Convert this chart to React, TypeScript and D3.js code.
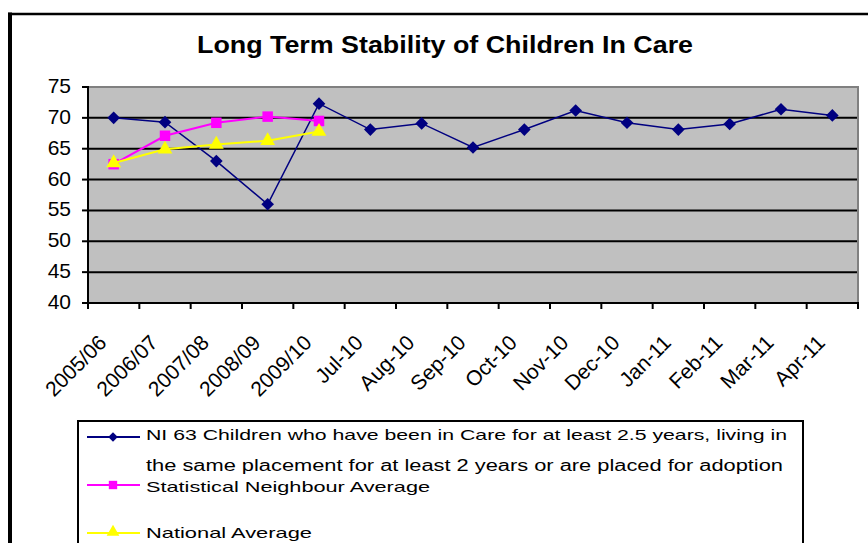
import * as d3 from "d3";

// categories along the x axis
const categories = [
  "2005/06", "2006/07", "2007/08", "2008/09", "2009/10",
  "Jul-10", "Aug-10", "Sep-10", "Oct-10", "Nov-10",
  "Dec-10", "Jan-11", "Feb-11", "Mar-11", "Apr-11"
];

// NI 63 - the local authority series
const ni63 = [70.0, 69.3, 63.0, 56.0, 72.3, 68.1, 69.1, 65.2, 68.1, 71.2, 69.2, 68.1, 69.0, 71.4, 70.4];
// only the yearly points have comparators
const statNeighbour = [62.5, 67.1, 69.2, 70.2, 69.5];
const nationalAvg = [62.7, 64.9, 65.7, 66.3, 67.8];

const yTicks = [40, 45, 50, 55, 60, 65, 70, 75];

const seriesNames = [
  "NI 63 Children who have been in Care for at least 2.5 years, living in",
  "the same placement for at least 2 years or are placed for adoption",
  "Statistical Neighbour Average",
  "National Average"
];

const width = 868;
const height = 543;
const marginLeft = 88;
const marginRight = 10;
const marginTop = 87;
const plotBottom = 303;
const font = "'Liberation Sans', Arial, sans-serif";

export default function App() {
  const x = d3.scaleBand(categories, [marginLeft, width - marginRight]);
  const y = d3.scaleLinear([40, 75], [plotBottom, marginTop]);
  const cx = (i: number) => x(categories[i])! + x.bandwidth() / 2;

  const line = d3.line<number>((d, i) => cx(i), (d) => y(d));

  const diamond = d3.symbol(d3.symbolSquare, 80)()!;
  const square = d3.symbol(d3.symbolSquare, 110)()!;
  const triangle = d3.symbol(d3.symbolTriangle, 95)()!;
  const smallSquare = d3.symbol(d3.symbolSquare, 70)()!;
  const smallDiamond = d3.symbol(d3.symbolSquare, 45)()!;
  const smallTriangle = d3.symbol(d3.symbolTriangle, 70)()!;

  const ticksX = [...categories.map((c) => x(c)!), width - marginRight];

  return (
    <svg width={width} height={height} style={{position: "absolute", left: 0, top: 0, background: "#fff"}}>
      {/* outer chart frame, cut off at right and bottom */}
      <line x1={10} x2={10} y1={12.5} y2={height} stroke="#000" strokeWidth={4} />
      <line x1={8} x2={width} y1={14} y2={14} stroke="#000" strokeWidth={2.5} />

      <text x={445} y={53} textAnchor="middle" fontFamily={font} fontWeight="bold" fontSize={23}
        textLength={496} lengthAdjust="spacingAndGlyphs">Long Term Stability of Children In Care</text>

      {/* plot area */}
      <rect x={marginLeft} y={marginTop} width={width - marginRight - marginLeft} height={plotBottom - marginTop} fill="#c0c0c0" />
      <g stroke="#000" strokeWidth={2}>
        {yTicks.slice(1, -1).map((t) => (
          <line key={t} x1={marginLeft} x2={width - marginRight} y1={y(t)} y2={y(t)} />
        ))}
      </g>
      <path d={`M${marginLeft},${marginTop}H${width - marginRight}V${plotBottom}`} fill="none" stroke="#808080" strokeWidth={2} />

      {/* y axis */}
      <g stroke="#000" strokeWidth={2}>
        <line x1={marginLeft} x2={marginLeft} y1={marginTop - 1} y2={plotBottom + 1} />
        {yTicks.map((t) => (
          <line key={t} x1={marginLeft - 6} x2={marginLeft} y1={y(t)} y2={y(t)} />
        ))}
      </g>
      <g fontFamily={font} fontSize={21} textAnchor="end">
        {yTicks.map((t) => (
          <text key={t} x={71} y={y(t) + 6}>{t}</text>
        ))}
      </g>

      {/* x axis */}
      <g stroke="#000" strokeWidth={2}>
        <line x1={marginLeft - 1} x2={width - marginRight + 1} y1={plotBottom} y2={plotBottom} />
        {ticksX.map((t, i) => (
          <line key={i} x1={t} x2={t} y1={plotBottom} y2={plotBottom + 6} />
        ))}
      </g>
      <g fontFamily={font} fontSize={21} textAnchor="end">
        {categories.map((c, i) => (
          <text key={c} transform={`translate(${cx(i) - 6},${344}) rotate(-45)`}>{c}</text>
        ))}
      </g>

      {/* series */}
      <path d={line(ni63)!} fill="none" stroke="#000080" strokeWidth={1.5} />
      {ni63.map((d, i) => (
        <path key={i} d={diamond} transform={`translate(${cx(i)},${y(d)}) rotate(45)`} fill="#000080" />
      ))}
      <path d={line(statNeighbour)!} fill="none" stroke="#ff00ff" strokeWidth={2} />
      {statNeighbour.map((d, i) => (
        <path key={i} d={square} transform={`translate(${cx(i)},${y(d)})`} fill="#ff00ff" />
      ))}
      <path d={line(nationalAvg)!} fill="none" stroke="#ffff00" strokeWidth={2} />
      {nationalAvg.map((d, i) => (
        <path key={i} d={triangle} transform={`translate(${cx(i)},${y(d)})`} fill="#ffff00" />
      ))}

      {/* legend */}
      <path d={`M78,${height}V421H803V${height}`} fill="none" stroke="#000" strokeWidth={2} />
      <g fontFamily={font}>
        <line x1={87} x2={140} y1={437} y2={437} stroke="#000080" strokeWidth={2} />
        <path d={smallDiamond} transform="translate(113,437) rotate(45)" fill="#000080" />
        <text x={146} y={440} fontSize={14.5} textLength={641} lengthAdjust="spacingAndGlyphs">{seriesNames[0]}</text>
        <text x={146} y={471} fontSize={16} textLength={637} lengthAdjust="spacingAndGlyphs">{seriesNames[1]}</text>

        <line x1={87} x2={140} y1={485} y2={485} stroke="#ff00ff" strokeWidth={2} />
        <path d={smallSquare} transform="translate(113,485)" fill="#ff00ff" />
        <text x={146} y={492} fontSize={15} textLength={284} lengthAdjust="spacingAndGlyphs">{seriesNames[2]}</text>

        <line x1={87} x2={140} y1={533} y2={533} stroke="#ffff00" strokeWidth={2} />
        <path d={smallTriangle} transform="translate(113,532)" fill="#ffff00" />
        <text x={146} y={538} fontSize={15} textLength={166} lengthAdjust="spacingAndGlyphs">{seriesNames[3]}</text>
      </g>
    </svg>
  );
}
